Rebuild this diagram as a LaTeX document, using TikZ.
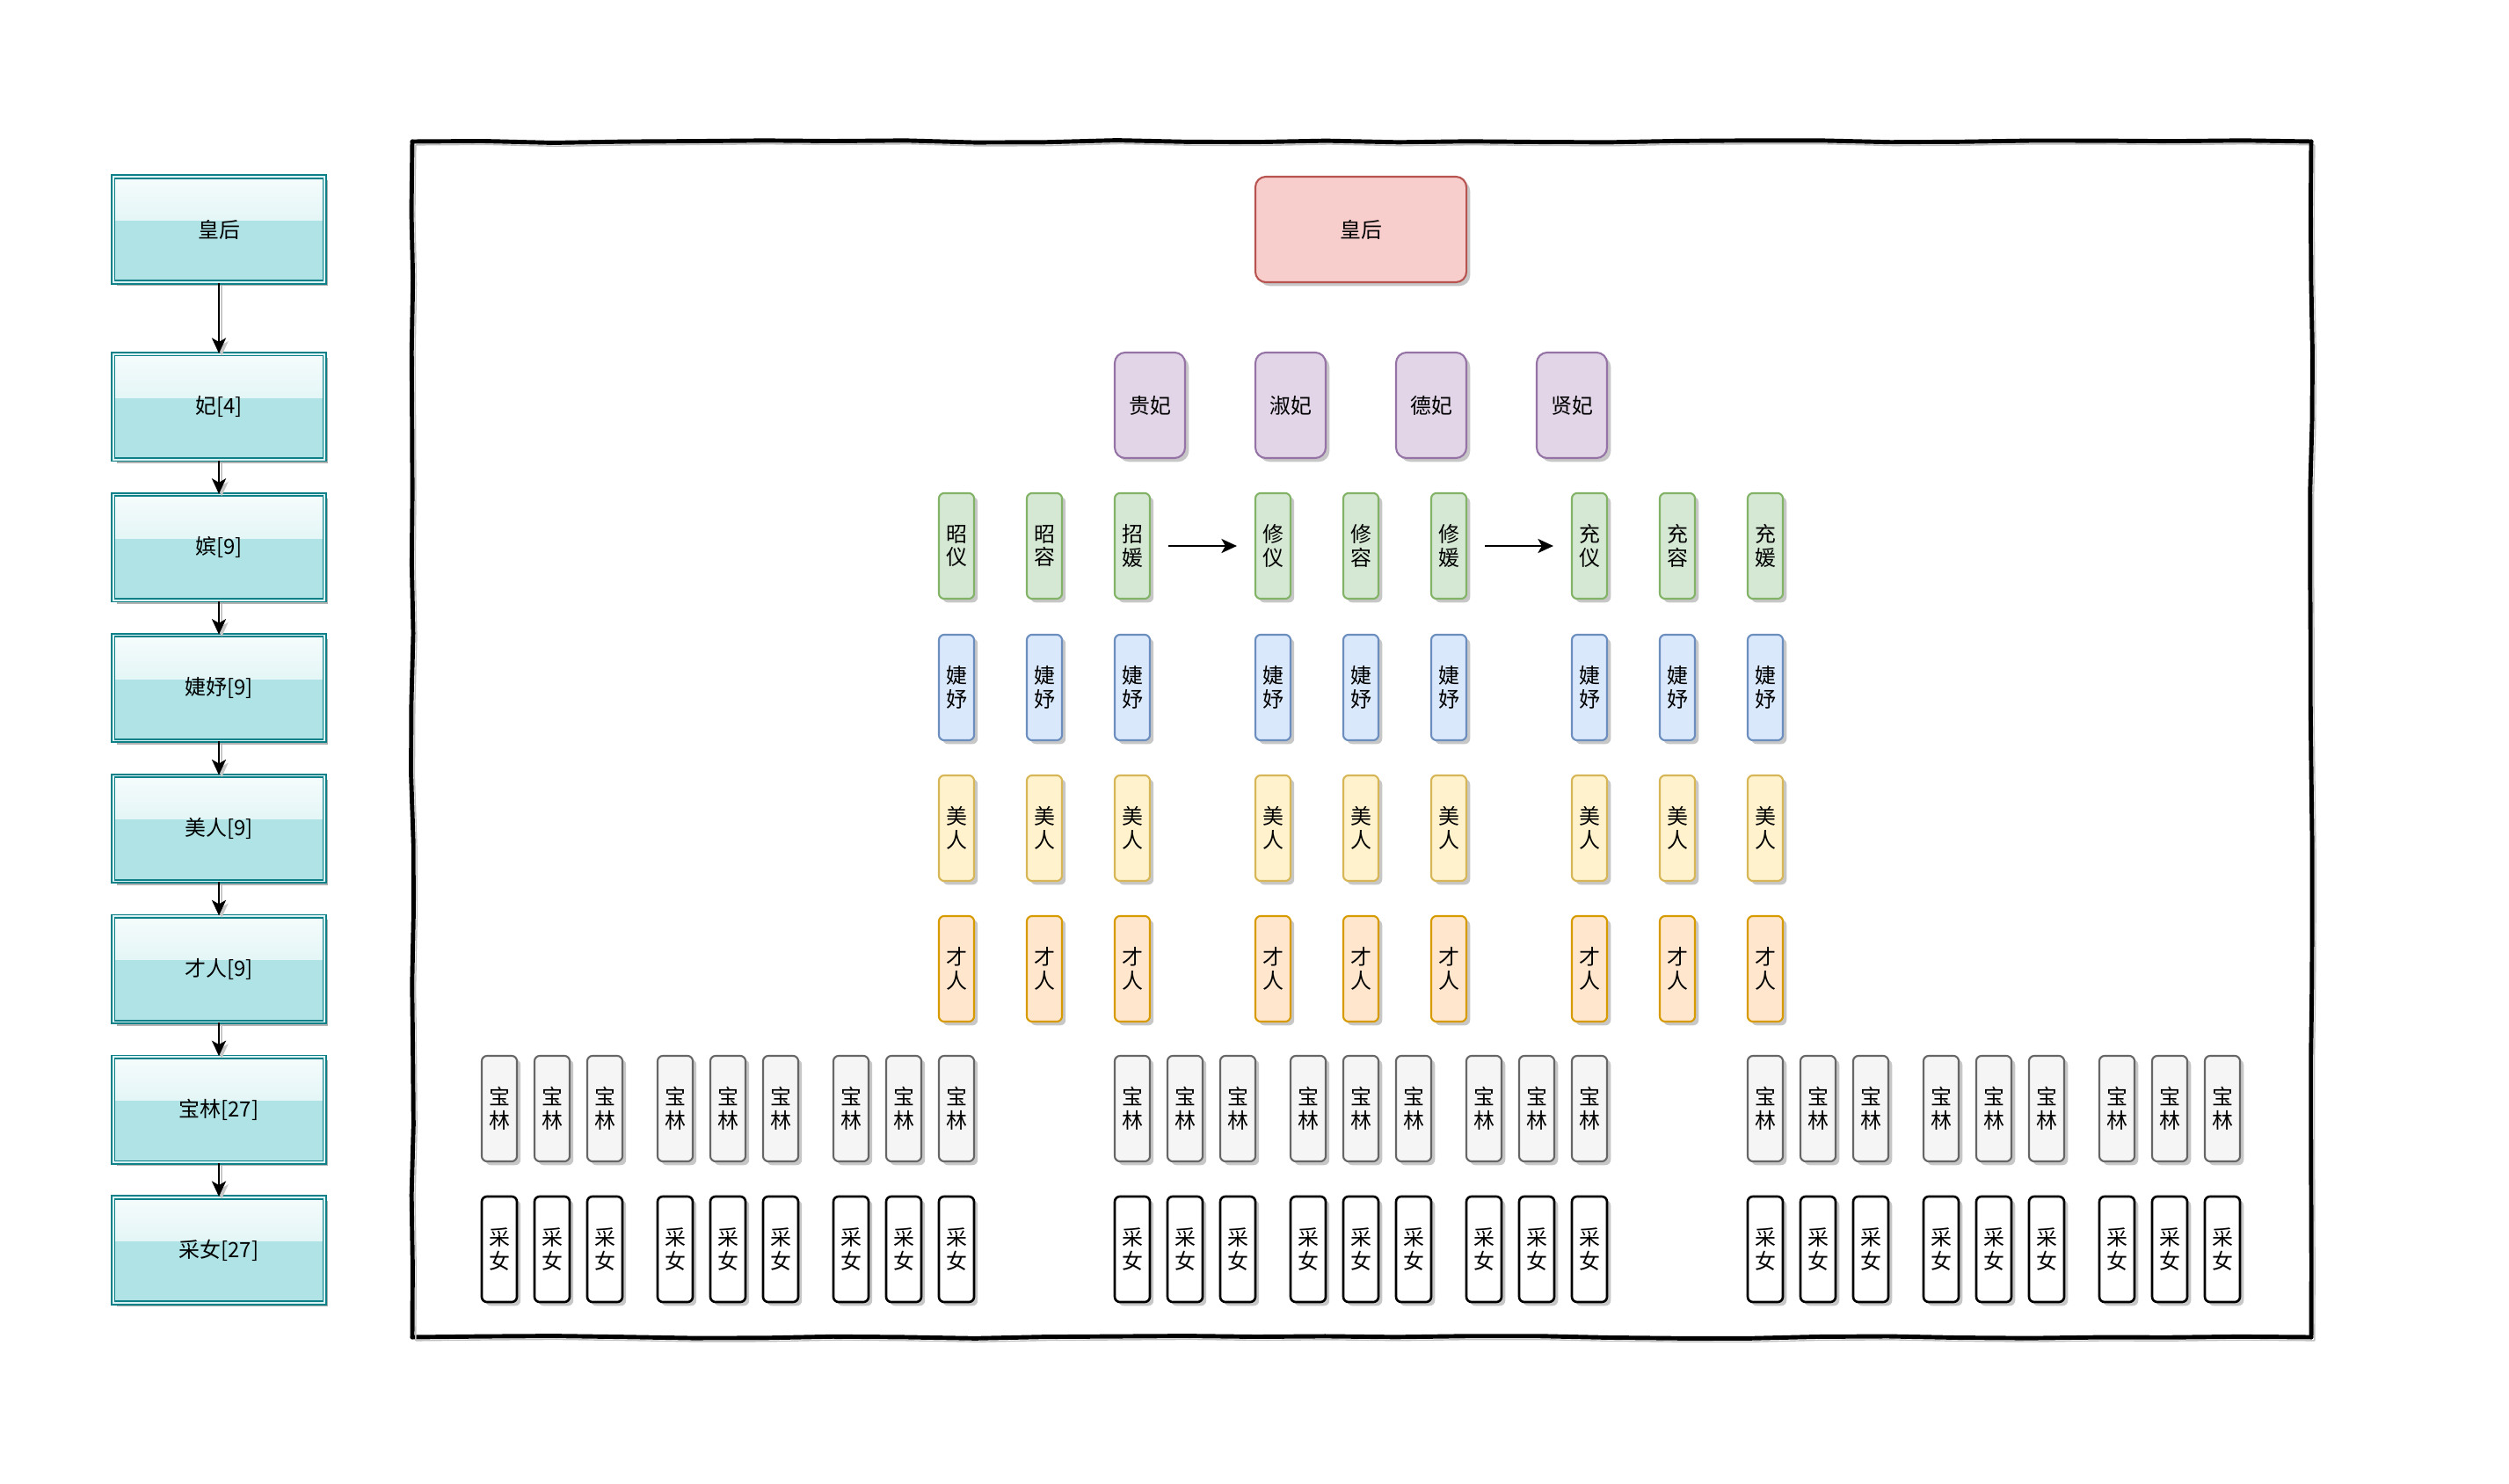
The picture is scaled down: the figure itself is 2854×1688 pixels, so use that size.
\documentclass[tikz,border=0pt]{standalone}
\usepackage{fontspec}
\setmainfont{Noto Sans CJK SC}
\usetikzlibrary{positioning, arrows.meta, shadows, decorations.pathmorphing}
\definecolor{rankfill}{HTML}{B0E3E6}
\definecolor{rankdraw}{HTML}{0E8088}
\definecolor{houfill}{HTML}{F8CECC}
\definecolor{houdraw}{HTML}{B85450}
\definecolor{feifill}{HTML}{E1D5E7}
\definecolor{feidraw}{HTML}{9673A6}
\definecolor{pinfill}{HTML}{D5E8D4}
\definecolor{pindraw}{HTML}{82B366}
\definecolor{jieyufill}{HTML}{DAE8FC}
\definecolor{jieyudraw}{HTML}{6C8EBF}
\definecolor{meirenfill}{HTML}{FFF2CC}
\definecolor{meirendraw}{HTML}{D6B656}
\definecolor{cairenfill}{HTML}{FFE6CC}
\definecolor{cairendraw}{HTML}{D79B00}
\definecolor{baolinfill}{HTML}{F5F5F5}
\definecolor{baolindraw}{HTML}{666666}
\definecolor{cainvfill}{HTML}{FFFFFF}
\definecolor{cainvdraw}{HTML}{000000}
\tikzset{
  RankStyle/.style={draw=rankdraw, double=white!55!rankfill, double distance=0.45pt,
    line width=0.5pt, fill=rankfill, minimum width=2.4cm, minimum height=1.2cm, inner sep=0pt,
    drop shadow={shadow xshift=1.2pt, shadow yshift=-1.2pt, opacity=0.3, fill=black},
    path picture={\fill[top color=white!88!rankfill, bottom color=white!35!rankfill]
      (path picture bounding box.north west) rectangle ([yshift=3pt]path picture bounding box.east);}},
  EdgeStyle/.style={-{Stealth[length=5pt, width=4.6pt, inset=1.3pt]}, line width=0.55pt,
    preaction={draw=black!22, transform canvas={xshift=0.9pt, yshift=-0.9pt}}},
  StepArrow/.style={-{Stealth[length=5pt, width=4.6pt, inset=1.3pt]}, line width=0.55pt,
    shorten <=0.2cm, shorten >=0.2cm},
  GradeBox/.style={rounded corners=0.06cm, draw=#1draw, fill=#1fill, line width=0.6pt,
    minimum width=0.4cm, minimum height=1.2cm, inner sep=0pt, align=center,
    drop shadow={shadow xshift=1.2pt, shadow yshift=-1.2pt, opacity=0.22, fill=black}},
  FeiBox/.style={GradeBox=fei, rounded corners=0.12cm, minimum width=0.8cm},
  HouBox/.style={GradeBox=hou, rounded corners=0.12cm, minimum width=2.4cm},
  FrameSide/.style={decorate, decoration={random steps, segment length=0.8cm, amplitude=0.45pt},
    draw=black, line width=1.4pt, line cap=round, line join=round,
    preaction={draw=black!25, transform canvas={xshift=1.1pt, yshift=-1.1pt}}}
}
\pgfmathsetseed{2854}
\begin{document}
\begin{tikzpicture}[x=0.01cm, y=-0.01cm, font=\fontsize{6.8pt}{7.6pt}\selectfont]
\useasboundingbox (0,0) rectangle (2854,1688);
% left column of ranks
\node[RankStyle] (hou) at (249,261) {皇后};
\node[RankStyle, below=0.8cm of hou] (fei) {妃[4]};
\node[RankStyle, below=0.38cm of fei] (pin) {嫔[9]};
\node[RankStyle, below=0.38cm of pin] (jy) {婕妤[9]};
\node[RankStyle, below=0.38cm of jy] (mr) {美人[9]};
\node[RankStyle, below=0.38cm of mr] (cr) {才人[9]};
\node[RankStyle, below=0.38cm of cr] (bl) {宝林[27]};
\node[RankStyle, below=0.38cm of bl] (cn) {采女[27]};
\draw[EdgeStyle] (hou) -- (fei);
\draw[EdgeStyle] (fei) -- (pin);
\draw[EdgeStyle] (pin) -- (jy);
\draw[EdgeStyle] (jy) -- (mr);
\draw[EdgeStyle] (mr) -- (cr);
\draw[EdgeStyle] (cr) -- (bl);
\draw[EdgeStyle] (bl) -- (cn);
% frame, drawn side by side
\coordinate (fnw) at (469,161);
\coordinate (fne) at (2629,161);
\coordinate (fse) at (2629,1521);
\coordinate (fsw) at (469,1521);
\draw[FrameSide] (fnw) -- (fne);
\draw[FrameSide] (fne) -- (fse);
\draw[FrameSide] (fse) -- (fsw);
\draw[FrameSide] (fsw) -- (fnw);
% queen and consorts
\node[HouBox] (mhou) at (1548,261) {皇后};
\node[FeiBox] (gf) at (1308,461) {贵妃};
\node[FeiBox] (sf) at (1468,461) {淑妃};
\node[FeiBox] (df) at (1628,461) {德妃};
\node[FeiBox] (xf) at (1788,461) {贤妃};
% nine pin
\foreach \x/\n/\a/\b in {1088/zyi/昭/仪, 1188/zr/昭/容, 1288/zyuan/招/媛,
    1448/xyi/修/仪, 1548/xr/修/容, 1648/xyuan/修/媛,
    1808/cyi/充/仪, 1908/cr/充/容, 2008/cyuan/充/媛}
  \node[GradeBox=pin] (\n) at (\x,621) {\a\\\b};
\draw[StepArrow] (zyuan) -- (xyi);
\draw[StepArrow] (xyuan) -- (cyi);
% jieyu, meiren, cairen
\foreach \x/\n in {1088/1, 1188/2, 1288/3, 1448/4, 1548/5, 1648/6, 1808/7, 1908/8, 2008/9} {
  \node[GradeBox=jieyu] (jy\n) at (\x,782) {婕\\妤};
  \node[GradeBox=meiren] (mr\n) at (\x,942) {美\\人};
  \node[GradeBox=cairen] (cr\n) at (\x,1102) {才\\人};
}
% baolin and cainv
\foreach \G in {0,1,2}
  \foreach \g in {0,1,2}
    \foreach \i in {0,1,2} {
      \pgfmathsetmacro{\bx}{568+720*\G+200*\g+60*\i}
      \node[GradeBox=baolin] (bl\G\g\i) at (\bx,1261) {宝\\林};
      \node[GradeBox=cainv, line width=0.75pt] (cn\G\g\i) at (\bx,1421) {采\\女};
    }
\end{tikzpicture}
\end{document}
